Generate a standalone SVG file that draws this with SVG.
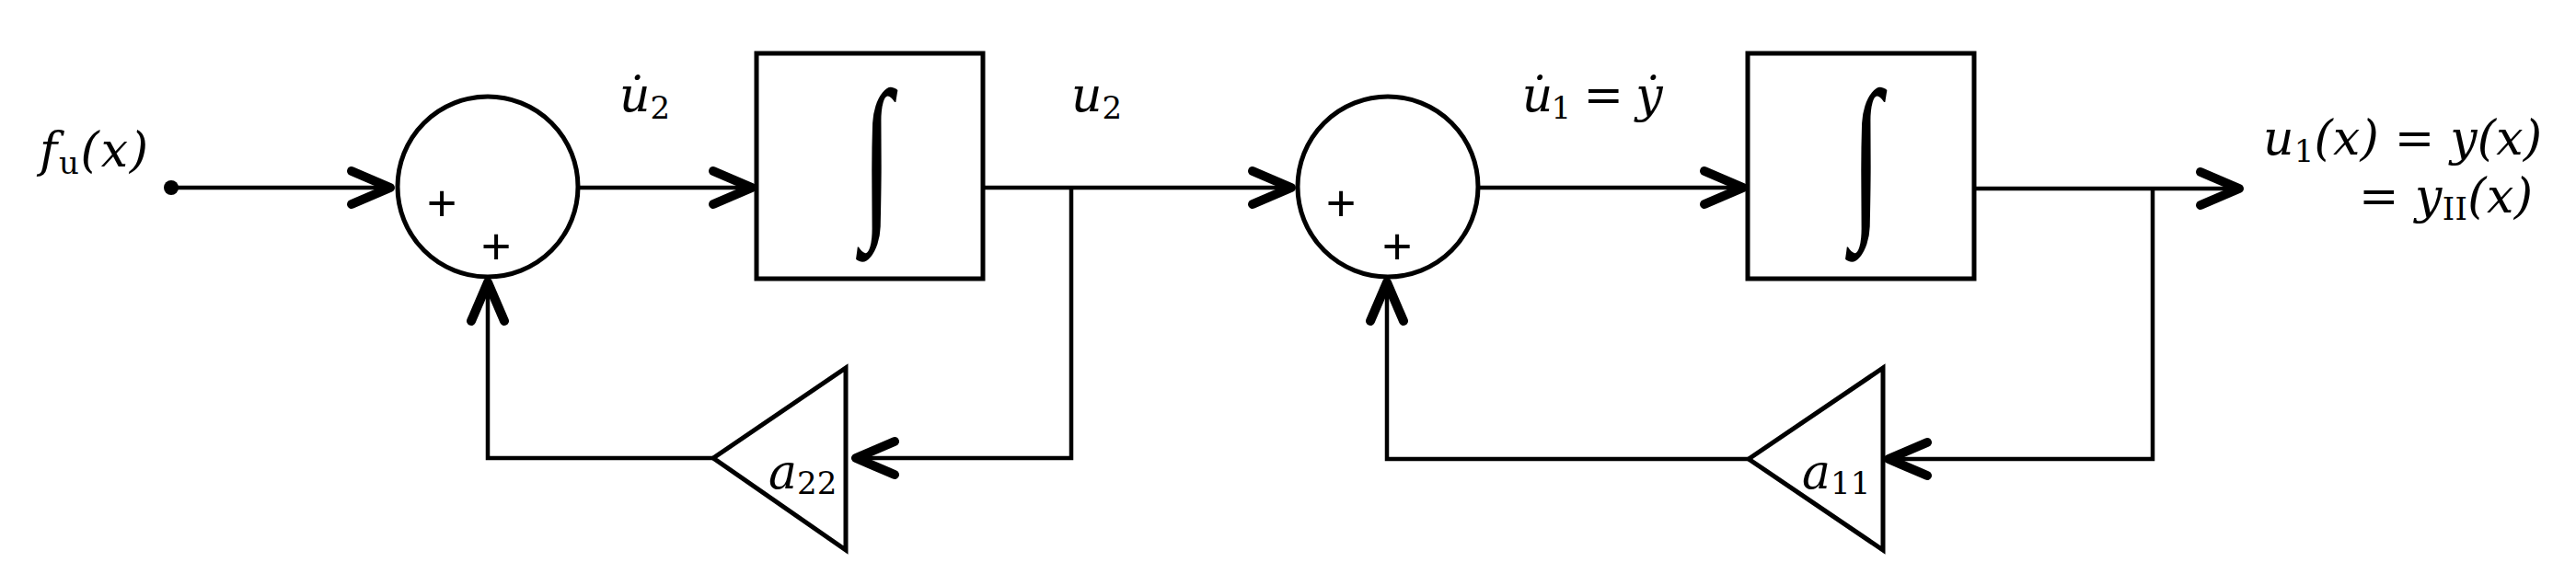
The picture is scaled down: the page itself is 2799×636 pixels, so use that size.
<svg xmlns="http://www.w3.org/2000/svg" width="2799" height="636" viewBox="0 0 2799 636">
<style>
.ln{fill:none;stroke:#000;stroke-width:4.5;stroke-linecap:butt;stroke-linejoin:miter}
.shape{fill:#fff;stroke:#000;stroke-width:5}
.m{font-family:"DejaVu Serif",serif;font-style:italic;font-size:52px;fill:#000}
.sub{font-style:normal;font-size:34px}
.pl{font-family:"Liberation Sans","DejaVu Sans",sans-serif;font-size:56px;fill:#000;text-anchor:middle}
.int{font-family:"Liberation Serif",serif;font-size:150px;fill:#000;text-anchor:middle}
</style>
<defs>
<marker id="arr" markerUnits="userSpaceOnUse" markerWidth="70" markerHeight="60" viewBox="-60 -30 70 60" refX="0" refY="0" orient="auto">
<path d="M -45 -18 L -3 0 L -45 18" fill="none" stroke="#000" stroke-width="10" stroke-linecap="round" stroke-linejoin="round"/>
</marker>
</defs>
<g id="connectors">
<circle cx="186" cy="204" r="8" fill="#000"/>
<path class="ln" d="M186 204 H427" marker-end="url(#arr)"/>
<path class="ln" d="M628 204 H820" marker-end="url(#arr)"/>
<path class="ln" d="M1068 204 H1406" marker-end="url(#arr)"/>
<path class="ln" d="M1164 204 V498 H927" marker-end="url(#arr)"/>
<path class="ln" d="M775 498 H530 V304" marker-end="url(#arr)"/>
<path class="ln" d="M1606 204 H1897" marker-end="url(#arr)"/>
<path class="ln" d="M2145 205 H2436" marker-end="url(#arr)"/>
<path class="ln" d="M2339 205 V499 H2049" marker-end="url(#arr)"/>
<path class="ln" d="M1900 499 H1507 V304" marker-end="url(#arr)"/>
</g>
<g id="input">
<text class="m" x="43" y="181" textLength="118" lengthAdjust="spacing">f<tspan class="sub" font-style="italic" dy="8">u</tspan><tspan dy="-8">(x)</tspan></text>
</g>
<g id="sum1">
<circle class="shape" cx="530" cy="203" r="98"/>
<text class="pl" x="480" y="240">+</text>
<text class="pl" x="539" y="287">+</text>
</g>
<g id="label-u2dot">
<text class="m" x="673" y="121">u̇<tspan class="sub" dy="8">2</tspan></text>
</g>
<g id="integrator1">
<rect class="shape" x="822" y="58" width="246" height="245"/>
<text class="int" transform="translate(953 233) scale(0.8 1.29)">∫</text>
</g>
<g id="label-u2">
<text class="m" x="1164" y="121">u<tspan class="sub" dy="8">2</tspan></text>
</g>
<g id="gain-a22">
<polygon class="shape" points="775,498 919,400 919,598"/>
<text class="m" x="835" y="531">a<tspan class="sub" dy="6">22</tspan></text>
</g>
<g id="sum2">
<circle class="shape" cx="1508" cy="203" r="98"/>
<text class="pl" x="1457" y="240">+</text>
<text class="pl" x="1518" y="287">+</text>
</g>
<g id="label-u1dot">
<text class="m" x="1652" y="121" textLength="153" lengthAdjust="spacing">u̇<tspan class="sub" dy="8">1</tspan><tspan dy="-8" font-style="normal"> = </tspan>ẏ</text>
</g>
<g id="integrator2">
<rect class="shape" x="1899" y="58" width="246" height="245"/>
<text class="int" transform="translate(2028 233) scale(0.8 1.29)">∫</text>
</g>
<g id="gain-a11">
<polygon class="shape" points="1900,499 2046,400 2046,598"/>
<text class="m" x="1958" y="531">a<tspan class="sub" dy="6">11</tspan></text>
</g>
<g id="output">
<text class="m" x="2459" y="168" textLength="303" lengthAdjust="spacing">u<tspan class="sub" dy="8">1</tspan><tspan dy="-8">(x)</tspan><tspan font-style="normal"> = </tspan>y(x)</text>
<text class="m" x="2563" y="231" textLength="189" lengthAdjust="spacing"><tspan font-style="normal">= </tspan>y<tspan class="sub" font-style="italic" dy="8">II</tspan><tspan dy="-8">(x)</tspan></text>
</g>
</svg>
